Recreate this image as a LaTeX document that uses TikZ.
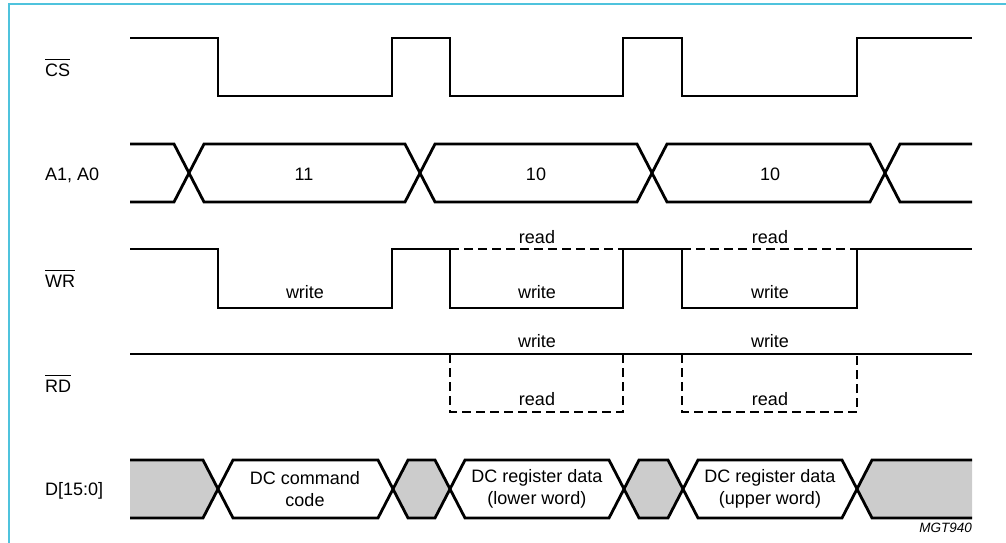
\documentclass[tikz,border=0pt]{standalone}
\usepackage{fontspec}
\setmainfont{Liberation Sans}
\usetikzlibrary{
  	positioning,
  	calc
  }
\definecolor{frameblue}{HTML}{4FC3DD}
\definecolor{busgray}{HTML}{CCCCCC}
\tikzstyle{sig}=[line width=2.8pt,line join=miter]
\tikzstyle{dsig}=[sig,dash pattern=on 9pt off 5pt]
\tikzstyle{txt}=[font=\fontsize{18}{22}\selectfont,inner sep=0pt]
\tikzstyle{lab}=[txt,anchor=base west]
\newcommand{\actlow}[1]{$\overline{\hbox{\rule{0pt}{15pt}#1}}$}

\begin{document}
\begin{tikzpicture}[x=1pt,y=-1pt]
    \useasboundingbox (0,0) rectangle (1006,543);
    \draw [frameblue,line width=2pt] (9,543) -- (9,4.5) -- (1006,4.5);
    % signal names
    \node [lab] (cs) at (45,76) {\actlow{CS}};
    \node [lab] (addr) at (45,180) {A1, A0};
    \node [lab] (wr) at (45,287) {\actlow{WR}};
    \node [lab] (rd) at (45,392) {\actlow{RD}};
    \node [lab] (data) at (45,495) {D[15:0]};
    % CS
    \draw [sig] (130,38) -- (218,38) -- (218,96) -- (392,96) -- (392,38)
       -- (450,38) -- (450,96) -- (623,96) -- (623,38) -- (682,38)
       -- (682,96) -- (857,96) -- (857,38) -- (972,38);
    % A1, A0
    \draw [sig] (130,144) -- (174,144) -- (204,202) -- (405,202) -- (435,144)
       -- (637,144) -- (667,202) -- (870,202) -- (900,144) -- (972,144);
    \draw [sig] (130,202) -- (174,202) -- (204,144) -- (405,144) -- (435,202)
       -- (637,202) -- (667,144) -- (870,144) -- (900,202) -- (972,202);
    \node [txt,anchor=base] (a11) at (304,180) {11};
    \node [txt,anchor=base] (a10l) at (536,180) {10};
    \node [txt,anchor=base] (a10u) at (770,180) {10};
    % WR
    \draw [sig] (130,249) -- (218,249) -- (218,308) -- (392,308) -- (392,249)
       -- (450,249) -- (450,308) -- (623,308) -- (623,249) -- (682,249)
       -- (682,308) -- (857,308) -- (857,249) -- (972,249);
    \draw [dsig] (450,249) -- (623,249);
    \draw [dsig] (682,249) -- (857,249);
    \node [txt,anchor=base] (wrw1) at (305,298) {write};
    \node [txt,anchor=base] (wrw2) at (537,298) {write};
    \node [txt,anchor=base] (wrw3) at (770,298) {write};
    \node [txt,anchor=base] (wrr2) at (537,243) {read};
    \node [txt,anchor=base] (wrr3) at (770,243) {read};
    % RD
    \draw [sig] (130,354) -- (972,354);
    \draw [dsig] (450,354) -- (450,412) -- (623,412) -- (623,354);
    \draw [dsig] (682,354) -- (682,412) -- (857,412) -- (857,354);
    \node [txt,anchor=base] (rdw2) at (537,347) {write};
    \node [txt,anchor=base] (rdw3) at (770,347) {write};
    \node [txt,anchor=base] (rdr2) at (537,405) {read};
    \node [txt,anchor=base] (rdr3) at (770,405) {read};
    % D[15:0]
    \fill [busgray] (130,460) -- (203,460) -- (218,489) -- (203,518) -- (130,518) -- cycle;
    \fill [busgray] (393,489) -- (408,460) -- (435,460) -- (450,489) -- (435,518) -- (408,518) -- cycle;
    \fill [busgray] (624,489) -- (639,460) -- (668,460) -- (683,489) -- (668,518) -- (639,518) -- cycle;
    \fill [busgray] (857,489) -- (872,460) -- (972,460) -- (972,518) -- (872,518) -- cycle;
    \draw [sig] (130,460) -- (203,460) -- (233,518) -- (378,518) -- (408,460)
       -- (435,460) -- (465,518) -- (609,518) -- (639,460) -- (668,460)
       -- (698,518) -- (842,518) -- (872,460) -- (972,460);
    \draw [sig] (130,518) -- (203,518) -- (233,460) -- (378,460) -- (408,518)
       -- (435,518) -- (465,460) -- (609,460) -- (639,518) -- (668,518)
       -- (698,460) -- (842,460) -- (872,518) -- (972,518);
    \node [txt,align=center] (cmd) at (305,489) {DC command\\code};
    \node [txt,align=center] (lower) at (537,489) {DC register data\\(lower word)};
    \node [txt,align=center] (upper) at (770,489) {DC register data\\(upper word)};
    \node [font=\fontsize{13.5}{16}\selectfont\itshape,inner sep=0pt,anchor=base east]
       (fig) at (972,532) {MGT940};
\end{tikzpicture}
\end{document}
